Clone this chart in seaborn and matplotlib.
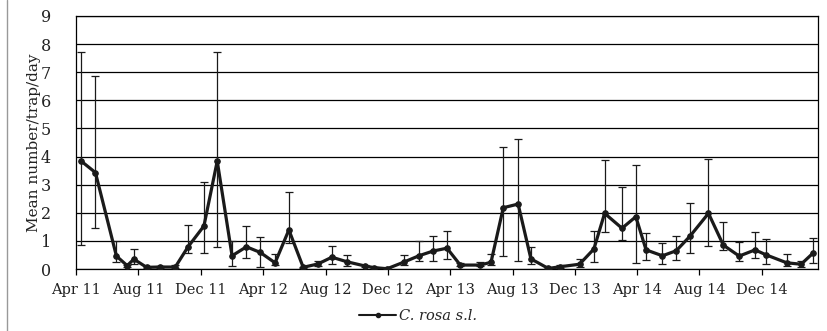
import matplotlib
matplotlib.use("Agg")
import matplotlib.pyplot as plt
import matplotlib.dates as mdates
from matplotlib.lines import Line2D
import seaborn as sns
import pandas as pd
import numpy as np

dates = ["2011-04-11", "2011-05-09", "2011-06-19", "2011-07-10", "2011-07-23",
         "2011-08-17", "2011-09-12", "2011-10-12", "2011-11-06", "2011-12-07",
         "2012-01-02", "2012-01-31", "2012-02-28", "2012-03-26", "2012-04-24",
         "2012-05-21", "2012-06-18", "2012-07-17", "2012-08-13", "2012-09-11",
         "2012-10-16", "2012-11-03", "2012-11-29", "2012-12-31", "2013-01-30",
         "2013-02-27", "2013-03-26", "2013-04-21", "2013-05-30", "2013-06-20",
         "2013-07-14", "2013-08-12", "2013-09-06", "2013-10-10", "2013-11-02",
         "2013-12-10", "2014-01-07", "2014-01-28", "2014-03-03", "2014-03-30",
         "2014-04-19", "2014-05-21", "2014-06-17", "2014-07-14", "2014-08-19",
         "2014-09-17", "2014-10-18", "2014-11-18", "2014-12-10", "2015-01-19",
         "2015-02-16", "2015-03-11"]
mean = [3.84, 3.43, 0.46, 0.12, 0.35, 0.06, 0.07, 0.07, 0.79, 1.53,
        3.84, 0.47, 0.79, 0.59, 0.22, 1.39, 0.06, 0.18, 0.42, 0.26,
        0.11, 0.05, 0.01, 0.24, 0.47, 0.64, 0.74, 0.14, 0.14, 0.24,
        2.18, 2.31, 0.36, 0.02, 0.08, 0.17, 0.71, 1.98, 1.45, 1.86,
        0.68, 0.47, 0.65, 1.17, 1.98, 0.85, 0.46, 0.68, 0.50, 0.22,
        0.17, 0.56]
upper = [7.72, 6.87, 1.00, 0.16, 0.71, 0.08, 0.11, 0.14, 1.57, 3.11,
         7.72, 1.00, 1.54, 1.13, 0.53, 2.75, 0.08, 0.28, 0.83, 0.50,
         0.15, 0.07, 0.02, 0.50, 1.00, 1.19, 1.36, 0.20, 0.26, 0.52,
         4.35, 4.63, 0.77, 0.04, 0.15, 0.36, 1.36, 3.86, 2.93, 3.70,
         1.27, 0.94, 1.19, 2.34, 3.90, 1.66, 0.95, 1.31, 1.06, 0.52,
         0.30, 1.09]
lower = [0.85, 1.47, 0.26, 0.08, 0.18, 0.04, 0.03, 0.02, 0.58, 0.58,
         0.77, 0.12, 0.40, 0.08, 0.15, 0.93, 0.04, 0.10, 0.18, 0.10,
         0.07, 0.03, 0.00, 0.14, 0.30, 0.30, 0.36, 0.10, 0.10, 0.15,
         0.47, 0.30, 0.17, 0.01, 0.04, 0.07, 0.24, 1.33, 1.03, 0.20,
         0.32, 0.18, 0.32, 0.58, 0.83, 0.68, 0.28, 0.38, 0.18, 0.12,
         0.06, 0.20]
series_name = "C. rosa s.l."
y_label = "Mean number/trap/day"

df = pd.DataFrame({"date": pd.to_datetime(dates), "mean": mean,
                   "upper": upper, "lower": lower})

sns.set_theme(style="white")
plt.rcParams["font.family"] = ["DejaVu Serif"]

fig = plt.figure(figsize=(8.28, 3.31), dpi=100)
ax = fig.add_axes([76/828, 1-269/331, (818-76)/828, (269-16)/331])

col = "#1a1a1a"
ax.errorbar(df["date"], df["mean"],
            yerr=[df["mean"] - df["lower"], df["upper"] - df["mean"]],
            fmt="none", ecolor=col, elinewidth=0.9, capsize=3, capthick=0.9, zorder=3)
sns.lineplot(data=df, x="date", y="mean", ax=ax, color=col, linewidth=2.3,
             marker="o", markersize=4, markeredgecolor=col, zorder=4, legend=False)

ax.set_ylim(0, 9)
ax.set_yticks(range(0, 10))
ax.set_xlim(pd.Timestamp("2011-04-01"), pd.Timestamp("2015-03-21"))
ax.xaxis.set_major_locator(mdates.MonthLocator(bymonth=[4, 8, 12]))
ax.xaxis.set_major_formatter(mdates.DateFormatter("%b %y"))
ax.grid(axis="y", color="black", linewidth=0.9)
ax.grid(axis="x", visible=False)
for s in ax.spines.values():
    s.set_color("black")
    s.set_linewidth(0.9)
ax.tick_params(axis="x", bottom=True, length=4, width=0.9, color="black",
               labelsize=10.5, pad=6, labelcolor="#222222")
ax.tick_params(axis="y", left=False, labelsize=11.5, pad=12, labelcolor="#222222")
ax.set_xlabel("")
ax.set_ylabel(y_label, fontsize=11, color="#222222")
ax.yaxis.set_label_coords(-0.047, 0.5)

handle = Line2D([], [], color=col, linewidth=1.5, marker="o", markersize=3)
fig.legend([handle], [series_name], loc="center", bbox_to_anchor=(418/828, 1-316/331),
           frameon=False, prop={"style": "italic", "size": 10.5}, handlelength=2.5,
           handletextpad=0.2)

fig.add_artist(Line2D([7.5/828, 7.5/828], [0, 1], transform=fig.transFigure,
                      color="#999999", linewidth=1))

fig.savefig("out.png", dpi=100)
